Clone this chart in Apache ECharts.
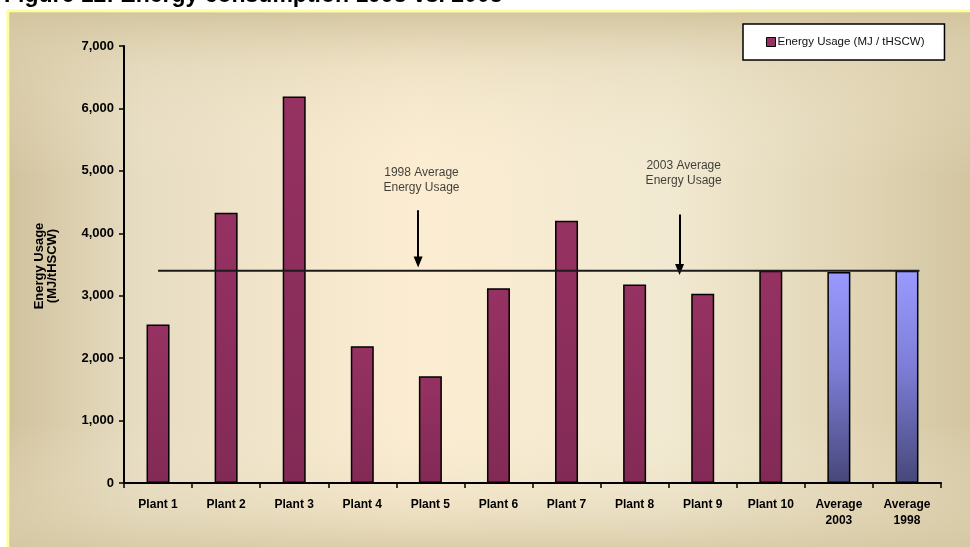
<!DOCTYPE html>
<html>
<head>
<meta charset="utf-8">
<script src="https://cdn.jsdelivr.net/npm/echarts@6/dist/echarts.min.js"></script>
<style>
  html, body { margin: 0; padding: 0; background: #ffffff; }
  #chart { width: 970px; height: 547px; }
</style>
</head>
<body>
<div id="chart"></div>
<script>
// ---- data ----
const categories = ['Plant 1', 'Plant 2', 'Plant 3', 'Plant 4', 'Plant 5', 'Plant 6',
  'Plant 7', 'Plant 8', 'Plant 9', 'Plant 10', 'Average\n2003', 'Average\n1998'];
const energyUsage = [2540, 4330, 6190, 2190, 1710, 3120, 4200, 3180, 3030, 3400, 3380, 3400];
const averageCategories = ['Average\n2003', 'Average\n1998'];
const yAxisMin = 0;
const yAxisMax = 7000;
const yAxisStep = 1000;
const seriesName = 'Energy Usage (MJ / tHSCW)';
const titleText = 'Figure 12: Energy consumption 1998 vs. 2003';
const yAxisTitle = 'Energy Usage\n(MJ/tHSCW)';
const noteTexts = ['1998 Average\nEnergy Usage', '2003 Average\nEnergy Usage'];
const referenceValue = energyUsage[categories.indexOf('Average\n1998')];

// ---- layout ----
const W = 970, H = 547;
const gridBox = { left: 124, right: 29, top: 46, bottom: 64 };
const barPx = 23;
const catPx = (W - gridBox.left - gridBox.right) / categories.length;
const halfBarCat = (barPx / 2 + 1) / catPx;
// annotation placement in axis units (category index, value)
const notePlacement = [
  { textX: 3.87, textY: 4850, arrowX: 3.82, arrowTop: 4370, arrowTip: 3540 },
  { textX: 7.72, textY: 4965, arrowX: 7.66, arrowTop: 4300, arrowTip: 3420 }
];

const FONT = 'Arial, "Liberation Sans", Helvetica, sans-serif';
const plantColor = new echarts.graphic.LinearGradient(0, 0, 0, 1, [
  { offset: 0, color: '#963262' }, { offset: 1, color: '#822a55' }
]);
const averageColor = new echarts.graphic.LinearGradient(0, 0, 0, 1, [
  { offset: 0, color: '#9a9aff' }, { offset: 0.45, color: '#7e7ed8' }, { offset: 1, color: '#47477a' }
]);

const barData = energyUsage.map((v, i) => {
  const isAvg = averageCategories.includes(categories[i]);
  return {
    value: v,
    itemStyle: { color: isAvg ? averageColor : plantColor, borderColor: '#000', borderWidth: 1.5 }
  };
});

const chart = echarts.init(document.getElementById('chart'), null, { renderer: 'canvas' });

chart.setOption({
  animation: false,
  backgroundColor: 'transparent',
  textStyle: { fontFamily: FONT },
  graphic: [
    {
      type: 'rect', z: -10, silent: true,
      shape: { x: 8, y: 11, width: W, height: H },
      style: {
        fill: new echarts.graphic.LinearGradient(0, 0, 1, 0, [
          { offset: 0, color: '#d1c29d' },
          { offset: 0.14, color: '#e7ddc3' },
          { offset: 0.42, color: '#fcedd2' },
          { offset: 0.68, color: '#f1e9d1' },
          { offset: 0.88, color: '#e0d4b4' },
          { offset: 1, color: '#d2c49f' }
        ]),
        stroke: '#ffff99', lineWidth: 3
      }
    },
    {
      type: 'rect', z: -9, silent: true,
      shape: { x: 9.5, y: 12.5, width: W, height: H },
      style: {
        fill: new echarts.graphic.LinearGradient(0, 0, 0, 1, [
          { offset: 0, color: 'rgba(210,196,158,0.95)' },
          { offset: 0.1, color: 'rgba(226,214,182,0.45)' },
          { offset: 0.3, color: 'rgba(245,235,210,0)' },
          { offset: 0.75, color: 'rgba(245,235,210,0)' },
          { offset: 0.9, color: 'rgba(226,214,182,0.45)' },
          { offset: 1, color: 'rgba(210,196,158,0.95)' }
        ])
      }
    },
    {
      type: 'text', left: 4, top: -16, silent: true,
      style: { text: titleText, font: 'bold 23px ' + FONT, fill: '#000' }
    },
    {
      type: 'text', silent: true, x: 46, y: 266, rotation: Math.PI / 2,
      style: {
        text: yAxisTitle, font: 'bold 13px ' + FONT, fill: '#000',
        align: 'center', verticalAlign: 'middle', lineHeight: 13
      }
    }
  ],
  legend: {
    left: 743, top: 24,
    padding: [12, 20, 12, 23],
    backgroundColor: '#ffffff',
    borderColor: '#000', borderWidth: 1.5,
    borderRadius: 0,
    itemWidth: 9, itemHeight: 9,
    textStyle: { fontSize: 11.5, color: '#111', fontFamily: FONT, padding: [0, 0, 0, -3] },
    data: [{ name: seriesName, icon: 'rect', itemStyle: { color: '#963262', borderColor: '#000', borderWidth: 1 } }]
  },
  grid: { left: gridBox.left, right: gridBox.right, top: gridBox.top, bottom: gridBox.bottom, containLabel: false },
  xAxis: [
    {
      type: 'category', data: categories,
      axisLine: { lineStyle: { color: '#000', width: 2 } },
      axisTick: { show: true, length: 5, lineStyle: { color: '#000', width: 1.5 } },
      axisLabel: { color: '#000', fontWeight: 'bold', fontSize: 12, margin: 14, lineHeight: 16, interval: 0, fontFamily: FONT },
      splitLine: { show: false }
    },
    {
      type: 'value', min: -0.5, max: categories.length - 0.5, show: false, position: 'bottom'
    }
  ],
  yAxis: {
    type: 'value', min: yAxisMin, max: yAxisMax, interval: yAxisStep,
    axisLine: { show: true, onZero: false, lineStyle: { color: '#000', width: 2 } },
    axisTick: { show: true, length: 5, lineStyle: { color: '#000', width: 1.5 } },
    axisLabel: {
      color: '#000', fontWeight: 'bold', fontSize: 13, margin: 10, fontFamily: FONT,
      formatter: v => v.toLocaleString('en-US')
    },
    splitLine: { show: false }
  },
  series: [
    {
      name: seriesName, type: 'bar', data: barData, barWidth: barPx, z: 2,
      itemStyle: { color: '#963262' }
    },
    {
      // reference line for the average energy usage
      name: 'reference', type: 'line', xAxisIndex: 1, z: 5,
      symbol: 'none', silent: true,
      lineStyle: { color: '#1b1b1b', width: 2 },
      data: [[0, referenceValue], [categories.length - 1 + halfBarCat, referenceValue]]
    },
    {
      // annotation arrows and captions
      name: 'notes', type: 'scatter', xAxisIndex: 1, z: 6, silent: true,
      symbolSize: 0,
      data: noteTexts.map((t, i) => ({ name: t, value: [notePlacement[i].textX, notePlacement[i].textY] })),
      label: {
        show: true, position: 'inside', formatter: '{b}', color: '#111',
        fontSize: 12, lineHeight: 15, fontFamily: FONT, align: 'center'
      },
      markLine: {
        silent: true, animation: false,
        symbol: ['none', 'triangle'], symbolSize: [9, 11],
        label: { show: false },
        lineStyle: { color: '#000', width: 2, type: 'solid' },
        data: notePlacement.map(p => [
          { coord: [p.arrowX, p.arrowTop] },
          { coord: [p.arrowX, p.arrowTip] }
        ])
      }
    }
  ]
});
</script>
</body>
</html>
